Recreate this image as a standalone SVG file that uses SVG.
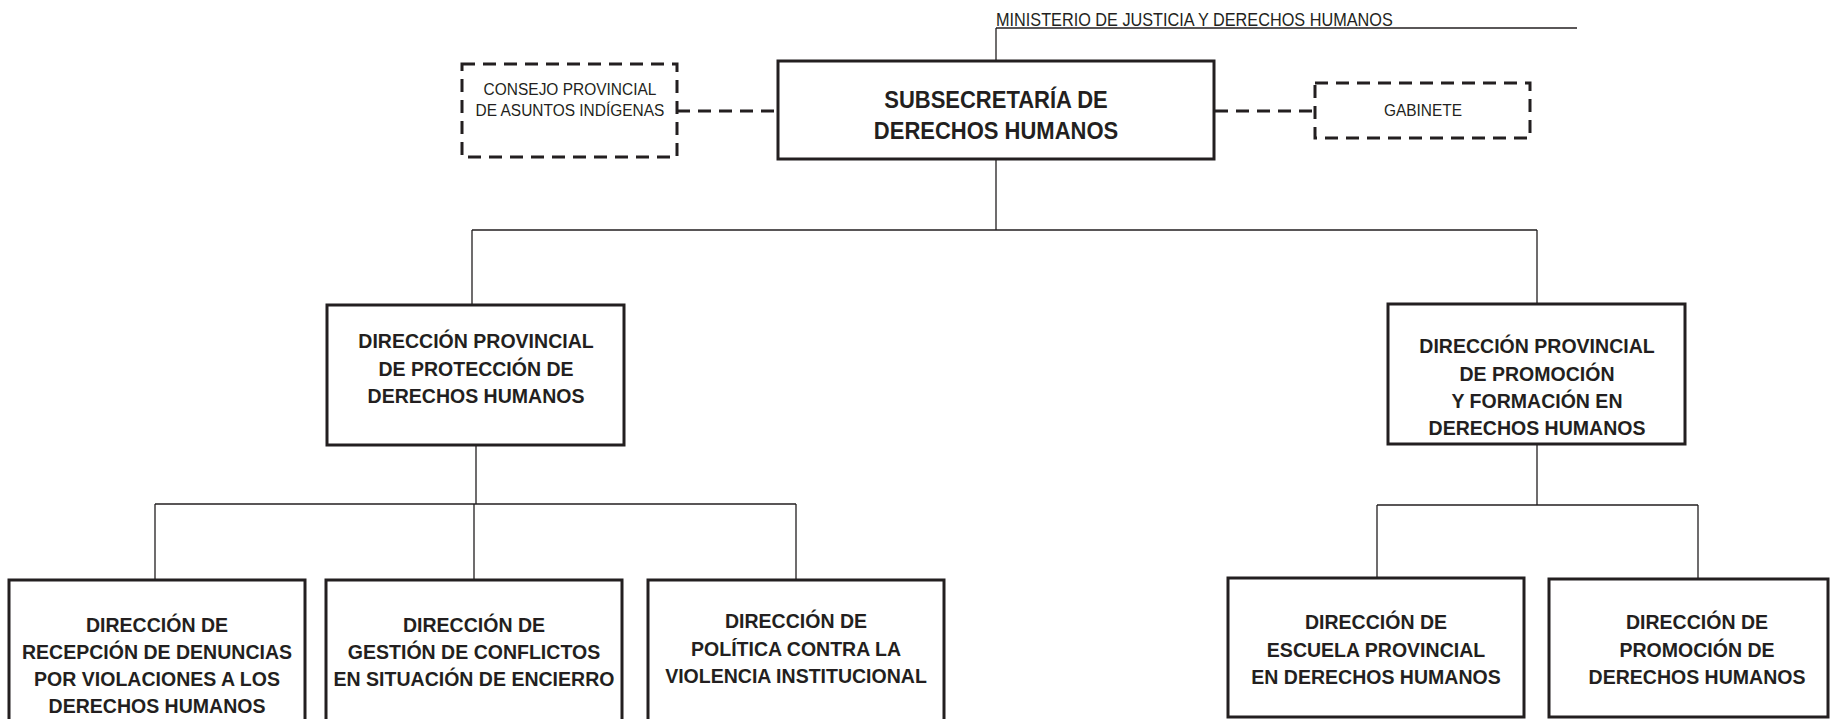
<svg xmlns="http://www.w3.org/2000/svg" width="1831" height="719" viewBox="0 0 1831 719">
<style>
.box{fill:#fff;stroke:#231f20;stroke-width:3}
.dbox{fill:#fff;stroke:#231f20;stroke-width:3;stroke-dasharray:13 8}
.ln{fill:none;stroke:#231f20;stroke-width:1.3}
.dln{fill:none;stroke:#231f20;stroke-width:3;stroke-dasharray:13 8}
.b{font-family:"Liberation Sans",Arial,sans-serif;font-weight:bold;fill:#231f20;text-anchor:middle;font-size:21px}
.m{font-family:"Liberation Sans",Arial,sans-serif;font-weight:bold;fill:#231f20;text-anchor:middle;font-size:23.5px}
.r{font-family:"Liberation Sans",Arial,sans-serif;fill:#231f20;text-anchor:middle;font-size:17px}
.u{font-family:"Liberation Sans",Arial,sans-serif;fill:#231f20;text-anchor:start;font-size:17.5px}
</style>
<rect width="1831" height="719" fill="#fff"/>
<g id="connectors">
<path class="ln" d="M996 28 H1577"/>
<path class="ln" d="M996 28 V61"/>
<path class="ln" d="M996 159 V230 M472 230 H1537 M472 230 V305 M1537 230 V304"/>
<path class="ln" d="M476 445 V504 M155 504 H796 M155 504 V580 M474 504 V580 M796 504 V580"/>
<path class="ln" d="M1537 444 V505 M1377 505 H1698 M1377 505 V578 M1698 505 V579"/>
<path class="dln" d="M677 111 H777"/>
<path class="dln" d="M1215 111 H1315"/>
</g>
<g id="ministerio" transform="translate(996 0) scale(0.93 1)">
<text class="u" x="0" y="26">MINISTERIO DE JUSTICIA Y DERECHOS HUMANOS</text>
</g>
<g id="subsecretaria">
<rect class="box" x="778" y="61" width="436" height="98"/>
<g transform="translate(996 0) scale(0.936 1)">
<text class="m" x="0" y="108.5">SUBSECRETARÍA DE</text>
<text class="m" x="0" y="139.5">DERECHOS HUMANOS</text>
</g>
</g>
<g id="consejo">
<rect class="dbox" x="462" y="64" width="215" height="93"/>
<g transform="translate(570 0) scale(0.91 1)">
<text class="r" x="0" y="95.5">CONSEJO PROVINCIAL</text>
<text class="r" x="0" y="116.5">DE ASUNTOS INDÍGENAS</text>
</g>
</g>
<g id="gabinete">
<rect class="dbox" x="1315" y="83" width="215" height="55"/>
<g transform="translate(1423 0) scale(0.91 1)">
<text class="r" x="0" y="116.5">GABINETE</text>
</g>
</g>
<g id="dp-proteccion">
<rect class="box" x="327" y="305" width="297" height="140"/>
<g transform="translate(476 0) scale(0.93 1)">
<text class="b" x="0" y="348.5">DIRECCIÓN PROVINCIAL</text>
<text class="b" x="0" y="376.5">DE PROTECCIÓN DE</text>
<text class="b" x="0" y="403.5">DERECHOS HUMANOS</text>
</g>
</g>
<g id="dp-promocion">
<rect class="box" x="1388" y="304" width="297" height="140"/>
<g transform="translate(1537 0) scale(0.93 1)">
<text class="b" x="0" y="353.5">DIRECCIÓN PROVINCIAL</text>
<text class="b" x="0" y="381.5">DE PROMOCIÓN</text>
<text class="b" x="0" y="408.5">Y FORMACIÓN EN</text>
<text class="b" x="0" y="435.5">DERECHOS HUMANOS</text>
</g>
</g>
<g id="d-recepcion">
<rect class="box" x="9" y="580" width="296" height="145"/>
<g transform="translate(157 0) scale(0.93 1)">
<text class="b" x="0" y="632.5">DIRECCIÓN DE</text>
<text class="b" x="0" y="659.5">RECEPCIÓN DE DENUNCIAS</text>
<text class="b" x="0" y="686.5">POR VIOLACIONES A LOS</text>
<text class="b" x="0" y="713.5">DERECHOS HUMANOS</text>
</g>
</g>
<g id="d-gestion">
<rect class="box" x="326" y="580" width="296" height="145"/>
<g transform="translate(474 0) scale(0.93 1)">
<text class="b" x="0" y="632.5">DIRECCIÓN DE</text>
<text class="b" x="0" y="659.5">GESTIÓN DE CONFLICTOS</text>
<text class="b" x="0" y="686.5">EN SITUACIÓN DE ENCIERRO</text>
</g>
</g>
<g id="d-politica">
<rect class="box" x="648" y="580" width="296" height="145"/>
<g transform="translate(796 0) scale(0.93 1)">
<text class="b" x="0" y="628.5">DIRECCIÓN DE</text>
<text class="b" x="0" y="656.5">POLÍTICA CONTRA LA</text>
<text class="b" x="0" y="683.5">VIOLENCIA INSTITUCIONAL</text>
</g>
</g>
<g id="d-escuela">
<rect class="box" x="1228" y="578" width="296" height="139"/>
<g transform="translate(1376 0) scale(0.93 1)">
<text class="b" x="0" y="629.5">DIRECCIÓN DE</text>
<text class="b" x="0" y="657.5">ESCUELA PROVINCIAL</text>
<text class="b" x="0" y="684.5">EN DERECHOS HUMANOS</text>
</g>
</g>
<g id="d-promocion">
<rect class="box" x="1549" y="579" width="279" height="138"/>
<g transform="translate(1697 0) scale(0.93 1)">
<text class="b" x="0" y="629.5">DIRECCIÓN DE</text>
<text class="b" x="0" y="657.5">PROMOCIÓN DE</text>
<text class="b" x="0" y="684.5">DERECHOS HUMANOS</text>
</g>
</g>
</svg>
